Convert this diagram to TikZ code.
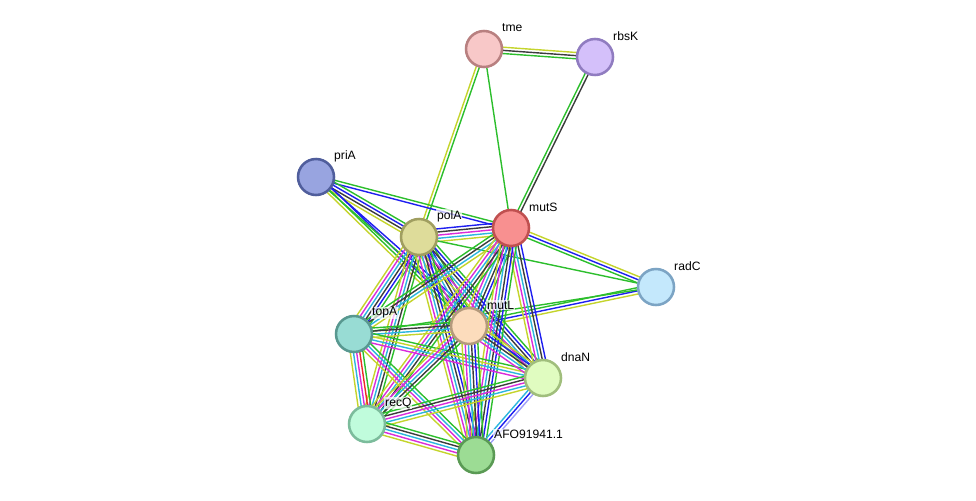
\documentclass[tikz,border=0pt]{standalone}
\usepackage{fontspec}
\setmainfont{Liberation Sans}
\usetikzlibrary{positioning,calc,backgrounds}

% STRING evidence colours
\definecolor{txtm}{RGB}{196,212,44}
\definecolor{expm}{RGB}{218,44,218}
\definecolor{dbase}{RGB}{44,182,222}
\definecolor{coex}{RGB}{60,60,60}
\definecolor{cooc}{RGB}{30,30,240}
\definecolor{nbhd}{RGB}{44,190,44}
\definecolor{fusn}{RGB}{238,40,40}
\definecolor{homl}{RGB}{160,160,250}

% one multi-line link between two proteins
\newcommand{\link}[3]{%
  \foreach \c [count=\i] in {#3} {\xdef\nlines{\i}}
  \foreach \c [count=\i] in {#3} {
    \pgfmathsetmacro\off{(\i-(\nlines+1)/2)*1.8}
    \draw[linkline,\c] ($(#1)!\off pt!90:(#2)$) -- ($(#2)!\off pt!-90:(#1)$);
  }}

\begin{document}
\begin{tikzpicture}[
    x=0.02cm, y=-0.02cm,
    prot/.style={circle, minimum size=0.72cm, inner sep=0pt, line width=1.45pt},
    plabel/.style={anchor=west, font=\fontsize{6.9}{8}\selectfont, fill=white, fill opacity=0.7, text opacity=1, inner sep=0.5pt},
    linkline/.style={line width=0.8pt}
]
    \useasboundingbox (0,0) rectangle (976,500);

    % Proteins
    \node[prot, fill={rgb,255:red,248;green,200;blue,200}, draw={rgb,255:red,184;green,128;blue,128}] (tme) at (484,49) {};
    \node[prot, fill={rgb,255:red,212;green,192;blue,250}, draw={rgb,255:red,144;green,124;blue,192}] (rbsK) at (595,57) {};
    \node[prot, fill={rgb,255:red,152;green,164;blue,224}, draw={rgb,255:red,80;green,94;blue,156}] (priA) at (316,177) {};
    \node[prot, fill={rgb,255:red,222;green,220;blue,154}, draw={rgb,255:red,160;green,158;blue,96}] (polA) at (419,237) {};
    \node[prot, fill={rgb,255:red,248;green,144;blue,144}, draw={rgb,255:red,192;green,80;blue,80}] (mutS) at (511,228) {};
    \node[prot, fill={rgb,255:red,196;green,232;blue,252}, draw={rgb,255:red,124;green,164;blue,196}] (radC) at (656,287) {};
    \node[prot, fill={rgb,255:red,152;green,220;blue,212}, draw={rgb,255:red,88;green,152;blue,144}] (topA) at (354,334) {};
    \node[prot, fill={rgb,255:red,252;green,220;blue,188}, draw={rgb,255:red,180;green,154;blue,124}] (mutL) at (469,326) {};
    \node[prot, fill={rgb,255:red,224;green,252;blue,192}, draw={rgb,255:red,160;green,190;blue,124}] (dnaN) at (543,378) {};
    \node[prot, fill={rgb,255:red,192;green,252;blue,220}, draw={rgb,255:red,124;green,188;blue,156}] (recQ) at (367,424) {};
    \node[prot, fill={rgb,255:red,156;green,220;blue,148}, draw={rgb,255:red,90;green,154;blue,84}] (afo) at (476,455) {};

    % Labels
    \node[plabel] (tmeL) at ($(tme)+(17,-21)$) {tme};
    \node[plabel] (rbsKL) at ($(rbsK)+(17,-21)$) {rbsK};
    \node[plabel] (priAL) at ($(priA)+(17,-21)$) {priA};
    \node[plabel] (polAL) at ($(polA)+(17,-21)$) {polA};
    \node[plabel] (mutSL) at ($(mutS)+(17,-21)$) {mutS};
    \node[plabel] (radCL) at ($(radC)+(17,-21)$) {radC};
    \node[plabel] (topAL) at ($(topA)+(17,-21)$) {topA};
    \node[plabel] (mutLL) at ($(mutL)+(17,-21)$) {mutL};
    \node[plabel] (dnaNL) at ($(dnaN)+(17,-21)$) {dnaN};
    \node[plabel] (recQL) at ($(recQ)+(17,-21)$) {recQ};
    \node[plabel] (afoL) at ($(afo)+(17,-21)$) {AFO91941.1};

    % Links
    \begin{pgfonlayer}{background}
    \link{tme}{rbsK}{nbhd,coex,txtm}
    \link{tme}{polA}{txtm,nbhd}
    \link{tme}{mutS}{nbhd}
    \link{rbsK}{mutS}{nbhd,coex}
    \link{priA}{mutS}{cooc,nbhd}
    \link{priA}{polA}{txtm,coex,cooc,nbhd}
    \link{priA}{mutL}{txtm,nbhd,cooc}
    \link{priA}{dnaN}{nbhd,cooc}
    \link{polA}{mutS}{txtm,dbase,expm,coex,cooc}
    \link{polA}{radC}{nbhd}
    \link{mutS}{radC}{nbhd,cooc,txtm}
    \link{mutL}{radC}{txtm,cooc,nbhd}
    \link{topA}{radC}{nbhd}
    \link{polA}{topA}{txtm,expm,dbase,coex,cooc,nbhd}
    \link{polA}{mutL}{txtm,expm,dbase,coex,cooc,nbhd}
    \link{polA}{dnaN}{txtm,expm,dbase,coex,cooc,nbhd}
    \link{polA}{recQ}{txtm,expm,dbase,coex,nbhd}
    \link{polA}{afo}{txtm,expm,dbase,coex,cooc,nbhd}
    \link{mutS}{topA}{nbhd,coex,dbase,txtm}
    \link{mutS}{mutL}{txtm,expm,dbase,coex,cooc,nbhd}
    \link{mutS}{dnaN}{txtm,expm,dbase,coex,cooc}
    \link{mutS}{recQ}{txtm,expm,dbase,coex,nbhd}
    \link{mutS}{afo}{txtm,expm,dbase,coex,cooc,nbhd}
    \link{topA}{mutL}{txtm,dbase,coex,nbhd}
    \link{topA}{dnaN}{expm,dbase,txtm,nbhd}
    \link{topA}{recQ}{txtm,dbase,expm,fusn,nbhd}
    \link{topA}{afo}{txtm,expm,dbase,nbhd}
    \link{mutL}{dnaN}{expm,dbase,coex,cooc,txtm}
    \link{mutL}{recQ}{txtm,expm,dbase,coex,nbhd}
    \link{mutL}{afo}{txtm,expm,dbase,coex,cooc,nbhd}
    \link{recQ}{dnaN}{txtm,dbase,expm,coex,nbhd}
    \link{recQ}{afo}{txtm,expm,dbase,coex,nbhd}
    \link{dnaN}{afo}{dbase,cooc,homl}
    \end{pgfonlayer}
\end{tikzpicture}
\end{document}
